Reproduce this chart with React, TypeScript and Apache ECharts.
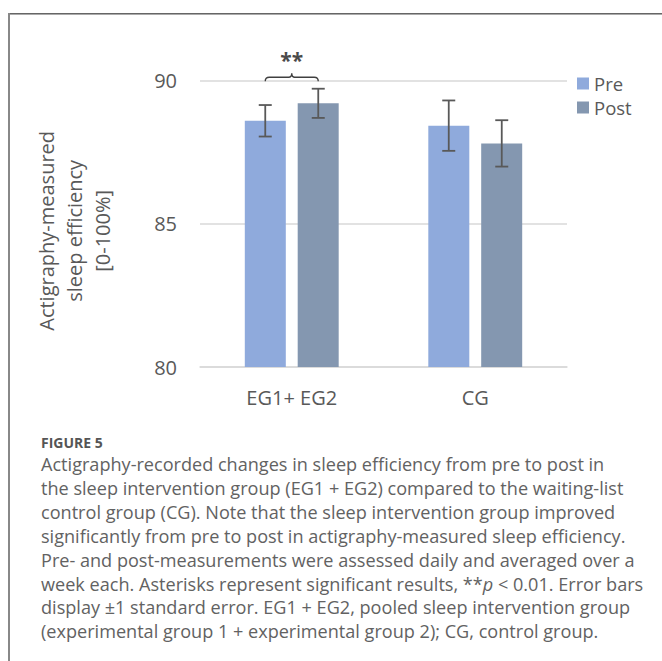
import React, { useEffect, useRef } from "react";
import * as echarts from "echarts";

const categories = ["EG1+ EG2", "CG"];
const preValues = [88.6, 88.43];
const postValues = [89.21, 87.81];
const preSE = [0.55, 0.88];
const postSE = [0.51, 0.81];
const yTicks = { min: 80, max: 90, interval: 5 };
const seriesNames = ["Pre", "Post"];
const sigLevel = 90.12;
const sigLabel = "**";

const captionTitle = "FIGURE 5";
const captionLines = [
  "Actigraphy-recorded changes in sleep efficiency from pre to post in",
  "the sleep intervention group (EG1 + EG2) compared to the waiting-list",
  "control group (CG). Note that the sleep intervention group improved",
  "significantly from pre to post in actigraphy-measured sleep efficiency.",
  "Pre- and post-measurements were assessed daily and averaged over a",
  "week each. Asterisks represent significant results, **{i|p} < 0.01. Error bars",
  "display \u00b11 standard error. EG1 + EG2, pooled sleep intervention group",
  "(experimental group 1 + experimental group 2); CG, control group.",
];

const BAR_W = 41;
const BAR_OFF = 26.5;
const FONT = "'Open Sans', sans-serif";
const CAP_SIZE = 18.1;
const CAP_COLOR = "#626262";

export default function App() {
  const ref = useRef<HTMLDivElement>(null);
  useEffect(() => {
    if (!ref.current) return;
    const chart = echarts.init(ref.current, undefined, { renderer: "svg" });

    const errData = (vals: number[], se: number[]) =>
      vals.map((v, i) => [i, v - se[i], v + se[i]]);

    const errSeries = (name: string, vals: number[], se: number[], off: number) => ({
      type: "custom",
      name: name + " SE",
      z: 5,
      silent: true,
      data: errData(vals, se),
      renderItem: (params: any, api: any) => {
        const lo = api.coord([api.value(0), api.value(1)]);
        const hi = api.coord([api.value(0), api.value(2)]);
        const x = lo[0] + off;
        const style = { stroke: "#595959", lineWidth: 1.8 };
        return {
          type: "group",
          children: [
            { type: "line", shape: { x1: x, y1: lo[1], x2: x, y2: hi[1] }, style },
            { type: "line", shape: { x1: x - 6.5, y1: lo[1], x2: x + 6.5, y2: lo[1] }, style },
            { type: "line", shape: { x1: x - 6.5, y1: hi[1], x2: x + 6.5, y2: hi[1] }, style },
          ],
        };
      },
    });

    const captionGraphics: any[] = [
      {
        type: "text",
        x: 41,
        y: 442,
        style: {
          text: captionTitle,
          font: `bold 14px ${FONT}`,
          fill: "#555555",
          verticalAlign: "middle",
        },
      },
      ...captionLines.map((t, i) => ({
        type: "text",
        x: 41,
        y: 464 + i * 23.9,
        style: {
          text: t,
          fontFamily: FONT,
          fontSize: CAP_SIZE,
          fill: CAP_COLOR,
          verticalAlign: "middle",
          rich: {
            i: { fontStyle: "italic", fontFamily: FONT, fontSize: CAP_SIZE, fill: CAP_COLOR },
          },
        },
      })),
    ];

    chart.setOption({
      animation: false,
      textStyle: { fontFamily: FONT },
      grid: { left: 200, right: 95, top: 80.7, bottom: 294, containLabel: false },
      legend: {
        data: seriesNames,
        orient: "vertical",
        left: 577,
        top: 74,
        padding: 0,
        itemWidth: 12,
        itemHeight: 12,
        itemGap: 5,
        icon: "rect",
        textStyle: { fontSize: 18.5, color: "#595959", fontFamily: FONT, lineHeight: 18 },
      },
      xAxis: {
        type: "category",
        data: categories,
        axisLine: { show: true, lineStyle: { color: "#d9d9d9", width: 1.5 } },
        axisTick: { show: false },
        axisLabel: { fontSize: 20, color: "#595959", margin: 20, fontFamily: FONT },
      },
      yAxis: {
        type: "value",
        min: yTicks.min,
        max: yTicks.max,
        interval: yTicks.interval,
        axisLine: { show: false },
        axisTick: { show: false },
        axisLabel: { fontSize: 20, color: "#595959", margin: 23, fontFamily: FONT },
        splitLine: { lineStyle: { color: "#d9d9d9", width: 1.5 } },
        name: "Actigraphy-measured\nsleep efficiency\n[0-100%]",
        nameLocation: "middle",
        nameRotate: 90,
        nameGap: 84,
        nameTextStyle: {
          fontSize: 20,
          color: "#595959",
          lineHeight: 28,
          fontFamily: FONT,
          padding: [0, 14, 0, 0],
        },
      },
      series: [
        {
          type: "bar",
          name: seriesNames[0],
          data: preValues,
          barWidth: BAR_W,
          barGap: "29%",
          itemStyle: { color: "#8faadc" },
        },
        {
          type: "bar",
          name: seriesNames[1],
          data: postValues,
          barWidth: BAR_W,
          itemStyle: { color: "#8497b0" },
        },
        errSeries(seriesNames[0], preValues, preSE, -BAR_OFF),
        errSeries(seriesNames[1], postValues, postSE, BAR_OFF),
        {
          type: "custom",
          name: "sig",
          z: 6,
          silent: true,
          data: [[0, sigLevel]],
          renderItem: (params: any, api: any) => {
            const p = api.coord([api.value(0), api.value(1)]);
            const xc = p[0];
            const y = p[1];
            const x1 = xc - BAR_OFF;
            const x2 = xc + BAR_OFF;
            const d = `M${x1} ${y + 4} Q${x1} ${y} ${x1 + 4} ${y} L${xc - 3} ${y} Q${xc} ${y} ${xc} ${y - 4} Q${xc} ${y} ${xc + 3} ${y} L${x2 - 4} ${y} Q${x2} ${y} ${x2} ${y + 4}`;
            return {
              type: "group",
              children: [
                {
                  type: "path",
                  shape: { pathData: d },
                  style: { stroke: "#404040", lineWidth: 1.4, fill: null },
                },
                {
                  type: "text",
                  x: xc,
                  y: y - 17,
                  style: {
                    text: sigLabel,
                    fontSize: 21,
                    fontWeight: "bold",
                    fontFamily: FONT,
                    fill: "#4a4a4a",
                    align: "center",
                    verticalAlign: "middle",
                  },
                },
              ],
            };
          },
        },
      ],
      graphic: [
        {
          type: "line",
          shape: { x1: 8, y1: 13.5, x2: 662, y2: 13.5 },
          style: { stroke: "#666666", lineWidth: 1 },
        },
        {
          type: "line",
          shape: { x1: 8, y1: 14.5, x2: 662, y2: 14.5 },
          style: { stroke: "#aaaaaa", lineWidth: 1 },
        },
        {
          type: "line",
          shape: { x1: 9, y1: 13, x2: 9, y2: 661 },
          style: { stroke: "#888888", lineWidth: 2 },
        },
        ...captionGraphics,
      ],
    });
    return () => chart.dispose();
  }, []);
  return (
    <div
      ref={ref}
      style={{ position: "fixed", left: 0, top: 0, width: 662, height: 661, background: "#fff" }}
    />
  );
}
